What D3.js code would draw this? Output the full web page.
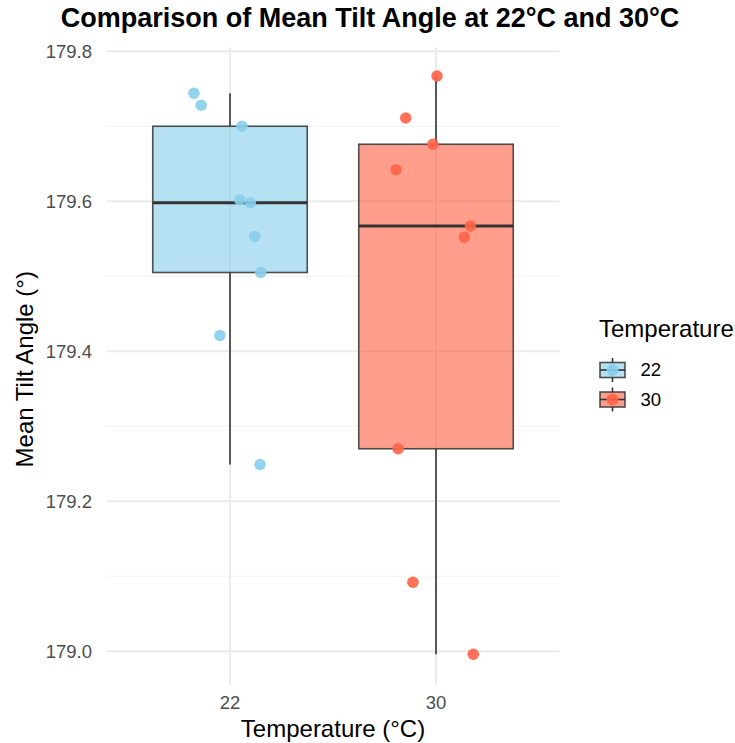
<!DOCTYPE html>
<html>
<head>
<meta charset="utf-8">
<script src="https://cdn.jsdelivr.net/npm/d3@7"></script>
<style>
  body { margin: 0; background: #fff; }
  text { font-family: "Liberation Sans", Arial, sans-serif; }
</style>
</head>
<body>
<div id="chart"></div>
<script>
// data
const temps = ["22", "30"];
const tilt22 = [179.744, 179.728, 179.700, 179.602, 179.598, 179.553, 179.505, 179.421, 179.249];
const jitter22 = [-0.175, -0.14, 0.058, 0.047, 0.099, 0.12, 0.149, -0.049, 0.146];
const tilt30 = [179.767, 179.711, 179.676, 179.642, 179.567, 179.552, 179.270, 179.092, 178.996];
const jitter30 = [0.005, -0.147, -0.015, -0.194, 0.167, 0.137, -0.184, -0.112, 0.181];
const yTicks = [179.0, 179.2, 179.4, 179.6, 179.8];
const yMinor = [179.1, 179.3, 179.5, 179.7];

const colors = { "22": "#87CEEB", "30": "#FF6347" };

const W = 735, H = 743;
const panel = { left: 106.4, right: 559.6, top: 47.5, bottom: 685 };

const svg = d3.select("#chart")
    .append("svg")
    .attr("width", W)
    .attr("height", H);

const x = d3.scalePoint()
    .domain(temps)
    .range([panel.left, panel.right])
    .padding(0.6);

const y = d3.scaleLinear()
    .domain([178.955, 179.805])
    .range([panel.bottom, panel.top]);

const step = x.step();
const boxW = step * 0.75;

// grid
svg.selectAll(".minor")
    .data(yMinor)
    .join("line")
    .attr("x1", panel.left).attr("x2", panel.right)
    .attr("y1", d => y(d)).attr("y2", d => y(d))
    .attr("stroke", "#F2F2F2")
    .attr("stroke-width", 1);

svg.selectAll(".major")
    .data(yTicks)
    .join("line")
    .attr("x1", panel.left).attr("x2", panel.right)
    .attr("y1", d => y(d)).attr("y2", d => y(d))
    .attr("stroke", "#EBEBEB")
    .attr("stroke-width", 2);

svg.selectAll(".vgrid")
    .data(temps)
    .join("line")
    .attr("x1", d => x(d)).attr("x2", d => x(d))
    .attr("y1", panel.top).attr("y2", panel.bottom)
    .attr("stroke", "#EBEBEB")
    .attr("stroke-width", 2);

// box stats
const groups = [
    { key: "22", values: tilt22, jit: jitter22 },
    { key: "30", values: tilt30, jit: jitter30 }
];
groups.forEach(function (g) {
    const s = g.values.slice().sort(d3.ascending);
    g.q1 = d3.quantileSorted(s, 0.25);
    g.med = d3.quantileSorted(s, 0.5);
    g.q3 = d3.quantileSorted(s, 0.75);
    const iqr = g.q3 - g.q1;
    g.lo = d3.min(s.filter(v => v >= g.q1 - 1.5 * iqr));
    g.hi = d3.max(s.filter(v => v <= g.q3 + 1.5 * iqr));
});

const box = svg.selectAll(".box")
    .data(groups)
    .join("g");

box.append("line")
    .attr("x1", d => x(d.key)).attr("x2", d => x(d.key))
    .attr("y1", d => y(d.hi)).attr("y2", d => y(d.q3))
    .attr("stroke", "#333").attr("stroke-width", 1.6);

box.append("line")
    .attr("x1", d => x(d.key)).attr("x2", d => x(d.key))
    .attr("y1", d => y(d.q1)).attr("y2", d => y(d.lo))
    .attr("stroke", "#333").attr("stroke-width", 1.6);

box.append("rect")
    .attr("x", d => x(d.key) - boxW / 2)
    .attr("width", boxW)
    .attr("y", d => y(d.q3))
    .attr("height", d => y(d.q1) - y(d.q3))
    .attr("fill", d => colors[d.key])
    .attr("fill-opacity", 0.62)
    .attr("stroke", "#333")
    .attr("stroke-opacity", 0.85)
    .attr("stroke-width", 1.6);

box.append("line")
    .attr("x1", d => x(d.key) - boxW / 2).attr("x2", d => x(d.key) + boxW / 2)
    .attr("y1", d => y(d.med)).attr("y2", d => y(d.med))
    .attr("stroke", "#333").attr("stroke-width", 3.2);

// jittered points
groups.forEach(function (g) {
    svg.selectAll(".pt" + g.key)
        .data(g.values)
        .join("circle")
        .attr("cx", (d, i) => x(g.key) + g.jit[i] * step)
        .attr("cy", d => y(d))
        .attr("r", 5.8)
        .attr("fill", colors[g.key])
        .attr("fill-opacity", 0.9);
});

// axes labels
svg.selectAll(".ylab")
    .data(yTicks)
    .join("text")
    .attr("x", 92)
    .attr("y", d => y(d))
    .attr("dy", "0.35em")
    .attr("text-anchor", "end")
    .attr("fill", "#4D4D4D")
    .style("font-size", "18.5px")
    .text(d => d3.format(".1f")(d));

svg.selectAll(".xlab")
    .data(temps)
    .join("text")
    .attr("x", d => x(d))
    .attr("y", 709)
    .attr("text-anchor", "middle")
    .attr("fill", "#4D4D4D")
    .style("font-size", "18.5px")
    .text(d => d);

svg.append("text")
    .attr("x", (panel.left + panel.right) / 2)
    .attr("y", 737)
    .attr("text-anchor", "middle")
    .style("font-size", "24px")
    .text("Temperature (°C)");

svg.append("text")
    .attr("transform", `translate(33, ${(panel.top + panel.bottom) / 2 + 3}) rotate(-90)`)
    .attr("text-anchor", "middle")
    .style("font-size", "24px")
    .text("Mean Tilt Angle (°)");

svg.append("text")
    .attr("x", 370)
    .attr("y", 27)
    .attr("text-anchor", "middle")
    .style("font-size", "27px")
    .style("font-weight", "bold")
    .text("Comparison of Mean Tilt Angle at 22°C and 30°C");

// legend
svg.append("text")
    .attr("x", 599)
    .attr("y", 337)
    .style("font-size", "24px")
    .text("Temperature");

const key = svg.selectAll(".key")
    .data(temps)
    .join("g")
    .attr("transform", (d, i) => `translate(612.5, ${370 + i * 29.5})`);

key.append("line")
    .attr("x1", 0).attr("x2", 0).attr("y1", -12).attr("y2", 12)
    .attr("stroke", "#333").attr("stroke-width", 1.6);

key.append("rect")
    .attr("x", -12.5).attr("y", -7.5).attr("width", 25).attr("height", 15)
    .attr("fill", "#fff");

key.append("rect")
    .attr("x", -12.5).attr("y", -7.5).attr("width", 25).attr("height", 15)
    .attr("fill", d => colors[d])
    .attr("fill-opacity", 0.62)
    .attr("stroke", "#333")
    .attr("stroke-opacity", 0.85)
    .attr("stroke-width", 1.6);

key.append("line")
    .attr("x1", -12.5).attr("x2", 12.5).attr("y1", 0).attr("y2", 0)
    .attr("stroke", "#333").attr("stroke-width", 1.6);

key.append("circle")
    .attr("r", 6)
    .attr("fill", d => colors[d])
    .attr("fill-opacity", 0.9);

key.append("text")
    .attr("x", 28)
    .attr("dy", "0.35em")
    .style("font-size", "18.5px")
    .text(d => d);
</script>
</body>
</html>
